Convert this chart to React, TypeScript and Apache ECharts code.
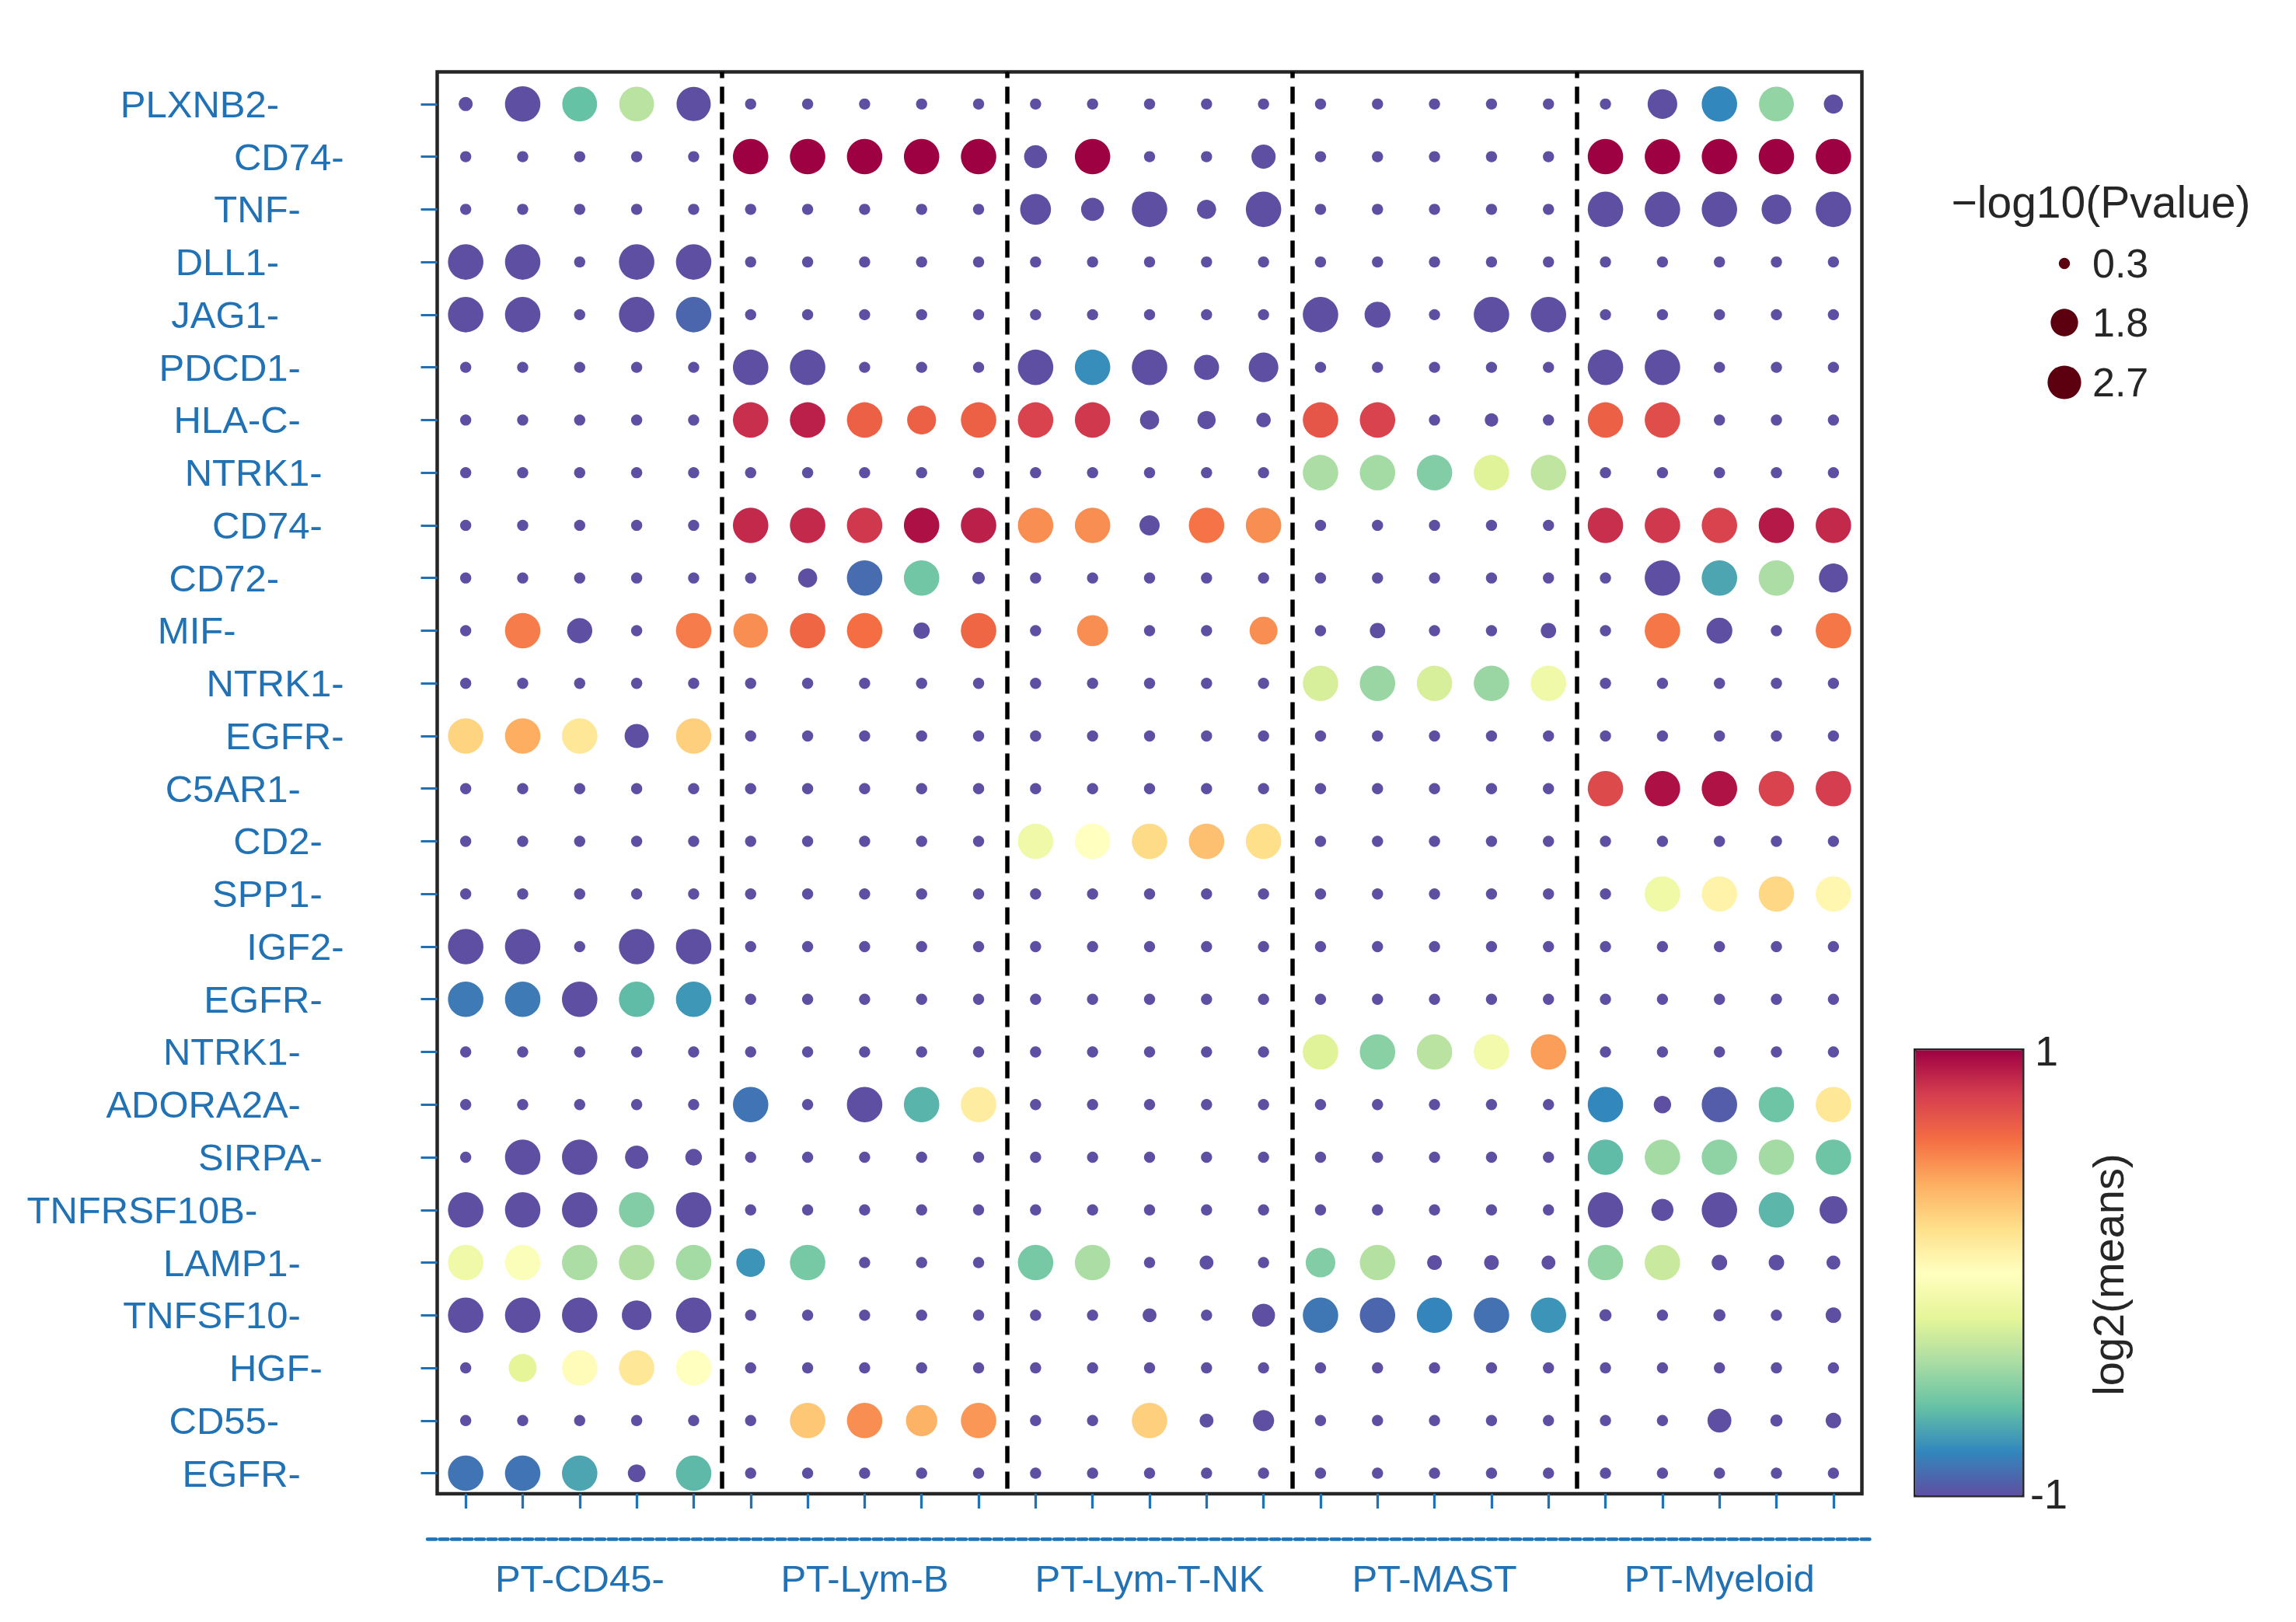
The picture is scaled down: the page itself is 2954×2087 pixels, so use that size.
import React, { useEffect, useRef } from 'react';
import * as echarts from 'echarts';

// ---------------- data ----------------
const rowLabels = [
  'PLXNB2-', 'CD74-', 'TNF-', 'DLL1-', 'JAG1-', 'PDCD1-', 'HLA-C-', 'NTRK1-', 'CD74-',
  'CD72-', 'MIF-', 'NTRK1-', 'EGFR-', 'C5AR1-', 'CD2-', 'SPP1-', 'IGF2-', 'EGFR-',
  'NTRK1-', 'ADORA2A-', 'SIRPA-', 'TNFRSF10B-', 'LAMP1-', 'TNFSF10-', 'HGF-', 'CD55-', 'EGFR-',
];

const groups = ['PT-CD45-', 'PT-Lym-B', 'PT-Lym-T-NK', 'PT-MAST', 'PT-Myeloid'];
const columns = groups.flatMap((g) => [1, 2, 3, 4, 5].map((i) => `${g} ${i}`));

// -log10(Pvalue) per row (25 columns = 5 groups x 5)
const pvalueRows = [
  [0.47, 3, 2.9, 2.9, 2.8, 0.3, 0.3, 0.3, 0.3, 0.3, 0.3, 0.3, 0.3, 0.3, 0.3, 0.3, 0.3, 0.3, 0.3, 0.3, 0.3, 2.1, 3, 2.9, 0.88],
  [0.3, 0.3, 0.3, 0.3, 0.3, 3, 3, 3, 3, 3, 1.27, 3, 0.3, 0.3, 1.4, 0.3, 0.3, 0.3, 0.3, 0.3, 3, 3, 3, 3, 3],
  [0.3, 0.3, 0.3, 0.3, 0.3, 0.3, 0.3, 0.3, 0.3, 0.3, 2.27, 1.27, 3, 0.88, 3, 0.3, 0.3, 0.3, 0.3, 0.3, 3, 3, 3, 2.1, 3],
  [3, 3, 0.3, 3, 3, 0.3, 0.3, 0.3, 0.3, 0.3, 0.3, 0.3, 0.3, 0.3, 0.3, 0.3, 0.3, 0.3, 0.3, 0.3, 0.3, 0.3, 0.3, 0.3, 0.3],
  [3, 3, 0.3, 3, 3, 0.3, 0.3, 0.3, 0.3, 0.3, 0.3, 0.3, 0.3, 0.3, 0.3, 3, 1.6, 0.3, 3, 3, 0.3, 0.3, 0.3, 0.3, 0.3],
  [0.3, 0.3, 0.3, 0.3, 0.3, 3, 3, 0.3, 0.3, 0.3, 3, 3, 3, 1.5, 2.1, 0.3, 0.3, 0.3, 0.3, 0.3, 3, 3, 0.3, 0.3, 0.3],
  [0.3, 0.3, 0.3, 0.3, 0.3, 3, 3, 3, 2.0, 3, 3, 3, 0.88, 0.8, 0.5, 3, 3, 0.3, 0.43, 0.3, 3, 3, 0.3, 0.3, 0.3],
  [0.3, 0.3, 0.3, 0.3, 0.3, 0.3, 0.3, 0.3, 0.3, 0.3, 0.3, 0.3, 0.3, 0.3, 0.3, 3, 3, 3, 3, 3, 0.3, 0.3, 0.3, 0.3, 0.3],
  [0.3, 0.3, 0.3, 0.3, 0.3, 3, 3, 3, 3, 3, 3, 3, 0.98, 3, 3, 0.3, 0.3, 0.3, 0.3, 0.3, 3, 3, 3, 3, 3],
  [0.3, 0.3, 0.3, 0.3, 0.3, 0.3, 0.88, 3, 3, 0.37, 0.3, 0.3, 0.3, 0.3, 0.3, 0.3, 0.3, 0.3, 0.3, 0.3, 0.3, 3, 3, 3, 2.0],
  [0.3, 3, 1.52, 0.3, 3, 2.85, 3, 3, 0.64, 3, 0.3, 2.3, 0.3, 0.3, 1.86, 0.3, 0.57, 0.3, 0.3, 0.57, 0.3, 3, 1.6, 0.3, 3],
  [0.3, 0.3, 0.3, 0.3, 0.3, 0.3, 0.3, 0.3, 0.3, 0.3, 0.3, 0.3, 0.3, 0.3, 0.3, 3, 3, 3, 3, 3, 0.3, 0.3, 0.3, 0.3, 0.3],
  [3, 3, 3, 1.4, 3, 0.3, 0.3, 0.3, 0.3, 0.3, 0.3, 0.3, 0.3, 0.3, 0.3, 0.3, 0.3, 0.3, 0.3, 0.3, 0.3, 0.3, 0.3, 0.3, 0.3],
  [0.3, 0.3, 0.3, 0.3, 0.3, 0.3, 0.3, 0.3, 0.3, 0.3, 0.3, 0.3, 0.3, 0.3, 0.3, 0.3, 0.3, 0.3, 0.3, 0.3, 3, 3, 3, 3, 3],
  [0.3, 0.3, 0.3, 0.3, 0.3, 0.3, 0.3, 0.3, 0.3, 0.3, 3, 3, 3, 3, 3, 0.3, 0.3, 0.3, 0.3, 0.3, 0.3, 0.3, 0.3, 0.3, 0.3],
  [0.3, 0.3, 0.3, 0.3, 0.3, 0.3, 0.3, 0.3, 0.3, 0.3, 0.3, 0.3, 0.3, 0.3, 0.3, 0.3, 0.3, 0.3, 0.3, 0.3, 0.3, 3, 3, 3, 3],
  [3, 3, 0.3, 3, 3, 0.3, 0.3, 0.3, 0.3, 0.3, 0.3, 0.3, 0.3, 0.3, 0.3, 0.3, 0.3, 0.3, 0.3, 0.3, 0.3, 0.3, 0.3, 0.3, 0.3],
  [3, 3, 3, 3, 3, 0.3, 0.3, 0.3, 0.3, 0.3, 0.3, 0.3, 0.3, 0.3, 0.3, 0.3, 0.3, 0.3, 0.3, 0.3, 0.3, 0.3, 0.3, 0.3, 0.3],
  [0.3, 0.3, 0.3, 0.3, 0.3, 0.3, 0.3, 0.3, 0.3, 0.3, 0.3, 0.3, 0.3, 0.3, 0.3, 3, 3, 3, 3, 3, 0.3, 0.3, 0.3, 0.3, 0.3],
  [0.3, 0.3, 0.3, 0.3, 0.3, 3, 0.3, 3, 3, 3, 0.3, 0.3, 0.3, 0.3, 0.3, 0.3, 0.3, 0.3, 0.3, 0.3, 3, 0.73, 3, 3, 3],
  [0.3, 3, 3, 1.3, 0.67, 0.3, 0.3, 0.3, 0.3, 0.3, 0.3, 0.3, 0.3, 0.3, 0.3, 0.3, 0.3, 0.3, 0.3, 0.3, 3, 3, 3, 3, 3],
  [3, 3, 3, 3, 3, 0.3, 0.3, 0.3, 0.3, 0.3, 0.3, 0.3, 0.3, 0.3, 0.3, 0.3, 0.3, 0.3, 0.3, 0.3, 3, 1.17, 3, 3, 1.83],
  [3, 3, 3, 3, 3, 1.96, 3, 0.3, 0.3, 0.3, 3, 3, 0.3, 0.46, 0.3, 2.09, 3, 0.52, 0.52, 0.46, 3, 3, 0.58, 0.58, 0.46],
  [3, 3, 3, 2.1, 3, 0.3, 0.3, 0.3, 0.3, 0.3, 0.3, 0.3, 0.46, 0.3, 1.27, 3, 3, 3, 3, 3, 0.35, 0.3, 0.35, 0.3, 0.58],
  [0.3, 1.87, 3, 3, 3, 0.3, 0.3, 0.3, 0.3, 0.3, 0.3, 0.3, 0.3, 0.3, 0.3, 0.3, 0.3, 0.3, 0.3, 0.3, 0.3, 0.3, 0.3, 0.3, 0.3],
  [0.3, 0.3, 0.3, 0.3, 0.3, 0.3, 3, 3, 2.35, 3, 0.3, 0.3, 3, 0.46, 1.08, 0.3, 0.3, 0.3, 0.3, 0.3, 0.3, 0.3, 1.37, 0.35, 0.58],
  [3, 3, 3, 0.75, 3, 0.3, 0.3, 0.3, 0.3, 0.3, 0.3, 0.3, 0.3, 0.3, 0.3, 0.3, 0.3, 0.3, 0.3, 0.3, 0.3, 0.3, 0.3, 0.3, 0.3],
];

// log2(means) per row
const meansRows = [
  [-1, -1, -0.6, -0.35, -1, -1, -1, -1, -1, -1, -1, -1, -1, -1, -1, -1, -1, -1, -1, -1, -1, -1, -0.8, -0.47, -1],
  [-1, -1, -1, -1, -1, 1, 1, 1, 1, 1, -1, 1, -1, -1, -1, -1, -1, -1, -1, -1, 1, 1, 1, 1, 1],
  [-1, -1, -1, -1, -1, -1, -1, -1, -1, -1, -1, -1, -1, -1, -1, -1, -1, -1, -1, -1, -1, -1, -1, -1, -1],
  [-1, -1, -1, -1, -1, -1, -1, -1, -1, -1, -1, -1, -1, -1, -1, -1, -1, -1, -1, -1, -1, -1, -1, -1, -1],
  [-1, -1, -1, -1, -0.92, -1, -1, -1, -1, -1, -1, -1, -1, -1, -1, -1, -1, -1, -1, -1, -1, -1, -1, -1, -1],
  [-1, -1, -1, -1, -1, -1, -1, -1, -1, -1, -1, -0.78, -1, -1, -1, -1, -1, -1, -1, -1, -1, -1, -1, -1, -1],
  [-1, -1, -1, -1, -1, 0.85, 0.9, 0.65, 0.65, 0.65, 0.78, 0.82, -1, -1, -1, 0.7, 0.78, -1, -1, -1, 0.65, 0.73, -1, -1, -1],
  [-1, -1, -1, -1, -1, -1, -1, -1, -1, -1, -1, -1, -1, -1, -1, -0.4, -0.42, -0.52, -0.22, -0.33, -1, -1, -1, -1, -1],
  [-1, -1, -1, -1, -1, 0.87, 0.87, 0.82, 0.95, 0.9, 0.5, 0.5, -1, 0.58, 0.5, -1, -1, -1, -1, -1, 0.85, 0.82, 0.78, 0.92, 0.87],
  [-1, -1, -1, -1, -1, -1, -1, -0.9, -0.57, -1, -1, -1, -1, -1, -1, -1, -1, -1, -1, -1, -1, -1, -0.7, -0.4, -1],
  [-1, 0.55, -1, -1, 0.55, 0.5, 0.63, 0.6, -1, 0.63, -1, 0.5, -1, -1, 0.5, -1, -1, -1, -1, -1, -1, 0.57, -1, -1, 0.57],
  [-1, -1, -1, -1, -1, -1, -1, -1, -1, -1, -1, -1, -1, -1, -1, -0.25, -0.45, -0.25, -0.45, -0.12, -1, -1, -1, -1, -1],
  [0.25, 0.4, 0.15, -1, 0.27, -1, -1, -1, -1, -1, -1, -1, -1, -1, -1, -1, -1, -1, -1, -1, -1, -1, -1, -1, -1],
  [-1, -1, -1, -1, -1, -1, -1, -1, -1, -1, -1, -1, -1, -1, -1, -1, -1, -1, -1, -1, 0.75, 0.95, 0.94, 0.78, 0.8],
  [-1, -1, -1, -1, -1, -1, -1, -1, -1, -1, -0.12, 0.0, 0.22, 0.33, 0.2, -1, -1, -1, -1, -1, -1, -1, -1, -1, -1],
  [-1, -1, -1, -1, -1, -1, -1, -1, -1, -1, -1, -1, -1, -1, -1, -1, -1, -1, -1, -1, -1, -0.13, 0.08, 0.23, 0.06],
  [-1, -1, -1, -1, -1, -1, -1, -1, -1, -1, -1, -1, -1, -1, -1, -1, -1, -1, -1, -1, -1, -1, -1, -1, -1],
  [-0.85, -0.85, -1, -0.62, -0.75, -1, -1, -1, -1, -1, -1, -1, -1, -1, -1, -1, -1, -1, -1, -1, -1, -1, -1, -1, -1],
  [-1, -1, -1, -1, -1, -1, -1, -1, -1, -1, -1, -1, -1, -1, -1, -0.22, -0.5, -0.35, -0.1, 0.45, -1, -1, -1, -1, -1],
  [-1, -1, -1, -1, -1, -0.87, -1, -1, -0.65, 0.12, -1, -1, -1, -1, -1, -1, -1, -1, -1, -1, -0.8, -1, -0.95, -0.58, 0.15],
  [-1, -1, -1, -1, -1, -1, -1, -1, -1, -1, -1, -1, -1, -1, -1, -1, -1, -1, -1, -1, -0.62, -0.42, -0.48, -0.42, -0.58],
  [-1, -1, -1, -0.52, -1, -1, -1, -1, -1, -1, -1, -1, -1, -1, -1, -1, -1, -1, -1, -1, -1, -1, -1, -0.64, -1],
  [-0.12, -0.03, -0.4, -0.38, -0.42, -0.76, -0.55, -1, -1, -1, -0.55, -0.4, -1, -1, -1, -0.52, -0.37, -1, -1, -1, -0.47, -0.3, -1, -1, -1],
  [-1, -1, -1, -1, -1, -1, -1, -1, -1, -1, -1, -1, -1, -1, -1, -0.86, -0.92, -0.81, -0.88, -0.76, -1, -1, -1, -1, -1],
  [-1, -0.2, 0.02, 0.15, 0.0, -1, -1, -1, -1, -1, -1, -1, -1, -1, -1, -1, -1, -1, -1, -1, -1, -1, -1, -1, -1],
  [-1, -1, -1, -1, -1, -1, 0.3, 0.5, 0.38, 0.47, -1, -1, 0.27, -1, -1, -1, -1, -1, -1, -1, -1, -1, -1, -1, -1],
  [-0.87, -0.87, -0.7, -1, -0.63, -1, -1, -1, -1, -1, -1, -1, -1, -1, -1, -1, -1, -1, -1, -1, -1, -1, -1, -1, -1],
];

const legendSizes = [0.3, 1.8, 2.7];
const colorRange = [-1, 1];

// ---------------- style / layout ----------------
const FONT = 'Liberation Sans, Arial, sans-serif';
const BLUE = '#2171b5';
const DARK = '#262626';
const SPECTRAL = ['#5e4fa2', '#3288bd', '#66c2a5', '#abdda4', '#e6f598', '#ffffbf', '#fee08b', '#fdae61', '#f46d43', '#d53e4f', '#9e0142'];
const SIZE_K = 26.3; // px diameter per sqrt(-log10 p)
const labelShift = [3, 0, 2, 3, 3, 2, 2, 1, 1, 3, 5, 0, 0, 2, 1, 1, 0, 1, 2, 2, 1, 4, 2, 2, 1, 3, 2];
const SHIFT_STEP = 27.8;
const legendY = [339, 415, 492];

const GRID = { left: 562.5, top: 92.5, width: 1833, height: 1829.5 };
const GROUP_LINE = { left: 550, width: 1859 };

function buildOption() {
  const data: number[][] = [];
  pvalueRows.forEach((row, r) =>
    row.forEach((p, c) => data.push([c, r, p, meansRows[r][c]]))
  );
  const rowIdx = rowLabels.map((_, i) => i);
  const rich: Record<string, any> = {};
  for (let k = 0; k <= 5; k++) {
    rich['s' + k] = {
      fontSize: 49,
      fontFamily: FONT,
      color: BLUE,
      padding: [0, k * SHIFT_STEP, 0, 0],
    };
  }

  return {
    animation: false,
    backgroundColor: '#ffffff',
    tooltip: { show: false },
    grid: [
      {
        left: GRID.left,
        top: GRID.top,
        width: GRID.width,
        height: GRID.height,
        show: true,
        borderColor: DARK,
        borderWidth: 4.5,
        backgroundColor: 'transparent',
        containLabel: false,
        outerBoundsMode: 'none',
      },
      {
        left: GROUP_LINE.left,
        top: GRID.top,
        width: GROUP_LINE.width,
        height: GRID.height,
        show: false,
        containLabel: false,
        outerBoundsMode: 'none',
      },
    ],
    xAxis: [
      {
        type: 'category',
        gridIndex: 0,
        data: columns,
        position: 'bottom',
        boundaryGap: true,
        axisLine: { show: false, onZero: false },
        axisTick: {
          show: true,
          interval: 0,
          alignWithLabel: true,
          length: 19,
          lineStyle: { color: BLUE, width: 3.3 },
        },
        axisLabel: { show: false, interval: 0 },
        splitLine: { show: false },
      },
      {
        type: 'category',
        gridIndex: 0,
        data: groups,
        position: 'bottom',
        offset: 58,
        boundaryGap: true,
        axisLine: { show: false, onZero: false },
        axisTick: { show: false },
        axisLabel: {
          show: true,
          interval: 0,
          color: BLUE,
          fontSize: 49,
          fontFamily: FONT,
          margin: 26,
        },
        splitLine: {
          show: true,
          interval: 0,
          showMinLine: false,
          showMaxLine: false,
          lineStyle: { color: '#000000', width: 5.5, type: [22, 11], dashOffset: 14 },
        },
      },
      {
        type: 'category',
        gridIndex: 1,
        data: groups,
        position: 'bottom',
        offset: 58,
        axisLine: { show: true, onZero: false, lineStyle: { color: BLUE, width: 4.5, type: [11, 4.5] } },
        axisTick: { show: false },
        axisLabel: { show: false },
        splitLine: { show: false },
      },
    ],
    yAxis: [
      {
        type: 'value',
        gridIndex: 0,
        inverse: true,
        min: -0.61,
        max: 26.39,
        axisLine: { show: false, onZero: false },
        axisTick: {
          show: true,
          length: 21,
          customValues: rowIdx,
          lineStyle: { color: BLUE, width: 3 },
        },
        axisLabel: {
          show: true,
          customValues: rowIdx,
          margin: 120,
          formatter: (v: number) => {
            const i = Math.round(v);
            return `{s${labelShift[i]}|${rowLabels[i]}}`;
          },
          rich,
        },
        splitLine: { show: false },
      },
      {
        type: 'value',
        gridIndex: 1,
        show: false,
        min: 0,
        max: 1,
      },
    ],
    visualMap: [
      {
        type: 'continuous',
        dimension: 3,
        seriesIndex: 0,
        min: colorRange[0],
        max: colorRange[1],
        inRange: { color: SPECTRAL },
        calculable: false,
        show: true,
        orient: 'vertical',
        left: 2462,
        top: 1349,
        itemWidth: 138,
        itemHeight: 573,
        padding: 0,
        borderColor: DARK,
        borderWidth: 4.5,
        textStyle: { color: 'transparent' },
        hoverLink: false,
      },
    ],
    series: [
      {
        type: 'scatter',
        xAxisIndex: 0,
        yAxisIndex: 0,
        data,
        symbol: 'circle',
        symbolSize: (val: number[]) => SIZE_K * Math.sqrt(val[2]),
        itemStyle: { opacity: 1 },
        emphasis: { disabled: true },
        silent: true,
      },
    ],
    graphic: [
      {
        type: 'text',
        x: 2703,
        y: 260,
        style: {
          text: '\u2212log10(Pvalue)',
          fontSize: 57,
          fontFamily: FONT,
          fill: DARK,
          align: 'center',
          verticalAlign: 'middle',
        },
      },
      ...legendSizes.map((v, i) => ({
        type: 'circle',
        shape: { cx: 2656, cy: legendY[i], r: (SIZE_K * Math.sqrt(v)) / 2 },
        style: { fill: '#5c000f' },
      })),
      ...legendSizes.map((v, i) => ({
        type: 'text',
        x: 2692,
        y: legendY[i],
        style: {
          text: String(v),
          fontSize: 52,
          fontFamily: FONT,
          fill: DARK,
          align: 'left',
          verticalAlign: 'middle',
        },
      })),
      {
        type: 'text',
        x: 2618,
        y: 1352,
        style: { text: String(colorRange[1]), fontSize: 54, fontFamily: FONT, fill: DARK, align: 'left', verticalAlign: 'middle' },
      },
      {
        type: 'text',
        x: 2612,
        y: 1922,
        style: { text: String(colorRange[0]), fontSize: 54, fontFamily: FONT, fill: DARK, align: 'left', verticalAlign: 'middle' },
      },
      {
        type: 'text',
        x: 2712,
        y: 1640,
        rotation: Math.PI / 2,
        style: {
          text: 'log2(means)',
          fontSize: 56,
          fontFamily: FONT,
          fill: DARK,
          align: 'center',
          verticalAlign: 'middle',
        },
      },
    ],
  };
}

export default function App() {
  const ref = useRef<HTMLDivElement>(null);
  useEffect(() => {
    document.body.style.margin = '0';
    if (!ref.current) return;
    const chart = echarts.init(ref.current, null, { renderer: 'svg' });
    chart.setOption(buildOption() as any);
    return () => chart.dispose();
  }, []);
  return (
    <div
      ref={ref}
      style={{ position: 'fixed', left: 0, top: 0, width: 2954, height: 2087, background: '#fff' }}
    />
  );
}
